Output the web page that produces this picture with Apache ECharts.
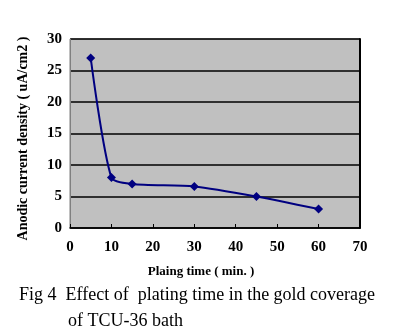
<!DOCTYPE html>
<html>
<head>
<meta charset="utf-8">
<script src="https://cdn.jsdelivr.net/npm/echarts@6/dist/echarts.min.js"></script>
<style>
  html, body { margin: 0; padding: 0; background: #fff; }
  #chart { width: 400px; height: 333px; }
</style>
</head>
<body>
<div id="chart"></div>
<script>
// Plating time (min) and anodic current density (uA/cm2)
const platingTime = [5, 10, 15, 30, 45, 60];
const currentDensity = [27, 8, 7, 6.6, 5, 3];
const xTicks = [0, 70, 10];   // min, max, interval
const yTicks = [0, 30, 5];

const serif = '"Liberation Serif", "DejaVu Serif", serif';

const chart = echarts.init(document.getElementById('chart'), null, { renderer: 'canvas' });

chart.setOption({
  animation: false,
  backgroundColor: '#ffffff',
  grid: {
    left: 70, right: 40, top: 39, bottom: 105,
    show: true,
    backgroundColor: '#c0c0c0',
    borderColor: '#808080',
    borderWidth: 1
  },
  xAxis: {
    type: 'value',
    min: xTicks[0], max: xTicks[1], interval: xTicks[2],
    name: 'Plaing time ( min. )',
    nameLocation: 'middle',
    nameGap: 37,
    nameTextStyle: { fontFamily: serif, fontWeight: 'bold', fontSize: 13, color: '#000', padding: [0, 28, 0, 0] },
    axisLine: { show: true, lineStyle: { color: '#000', width: 1.5 } },
    axisTick: { show: true, inside: true, length: 4, lineStyle: { color: '#000' } },
    axisLabel: { fontFamily: serif, fontWeight: 'bold', fontSize: 15, color: '#000', margin: 12 },
    splitLine: { show: false }
  },
  yAxis: [{
    type: 'value',
    min: yTicks[0], max: yTicks[1], interval: yTicks[2],
    name: 'Anodic current density ( uA/cm2 )',
    nameLocation: 'middle',
    nameGap: 40,
    nameTextStyle: { fontFamily: serif, fontWeight: 'bold', fontSize: 14, color: '#000', padding: [0, 10, 0, 0] },
    axisLine: { show: true, lineStyle: { color: '#808080', width: 1 } },
    axisTick: { show: false },
    axisLabel: { fontFamily: serif, fontWeight: 'bold', fontSize: 15, color: '#000', margin: 8 },
    splitLine: { show: true, lineStyle: { color: '#000', width: 1.5 } }
  }, {
    type: 'value',
    position: 'right',
    min: yTicks[0], max: yTicks[1], interval: yTicks[2],
    axisLine: { show: true, lineStyle: { color: '#000', width: 2 } },
    axisTick: { show: false },
    axisLabel: { show: false },
    splitLine: { show: false }
  }],
  title: [{
    text: 'Fig 4  Effect of  plating time in the gold coverage',
    left: 14, top: 281,
    textStyle: { fontFamily: serif, fontWeight: 'normal', fontSize: 18, color: '#000' }
  }, {
    text: 'of TCU-36 bath',
    left: 63, top: 307,
    textStyle: { fontFamily: serif, fontWeight: 'normal', fontSize: 18, color: '#000' }
  }],
  series: [{
    type: 'line',
    data: platingTime.map((t, i) => [t, currentDensity[i]]),
    smooth: 0.25,
    symbol: 'diamond',
    symbolSize: 9,
    lineStyle: { color: '#000080', width: 2 },
    itemStyle: { color: '#000080' }
  }]
});
</script>
</body>
</html>
